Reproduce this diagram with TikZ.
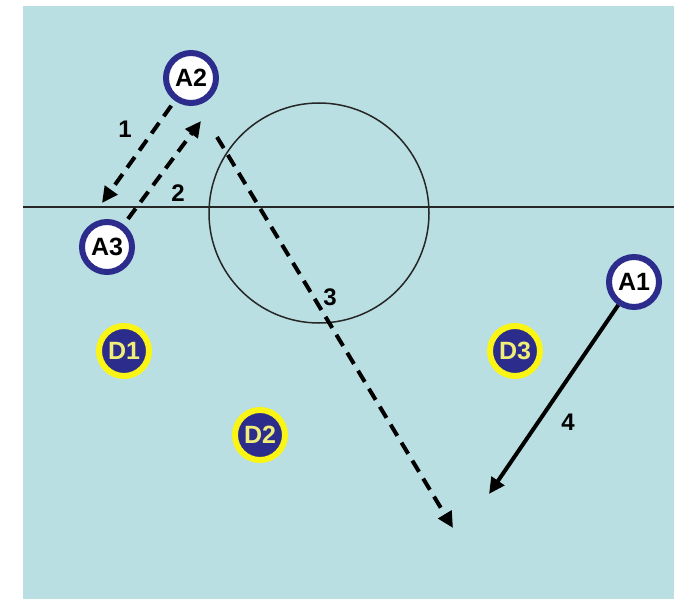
\documentclass[tikz,border=0pt]{standalone}
\usepackage{fontspec}
\setmainfont{Liberation Sans}
\usetikzlibrary{arrows.meta}
\definecolor{bgc}{RGB}{186,223,226}
\definecolor{navy}{RGB}{44,44,140}
\definecolor{yring}{RGB}{250,245,20}
\definecolor{ytext}{RGB}{240,238,120}
\tikzset{
  anode/.style={circle, draw=navy, line width=6pt, fill=white, minimum size=50pt, inner sep=0pt, font=\fontsize{25}{25}\selectfont\bfseries, text=black},
  dnode/.style={circle, draw=yring, line width=6pt, fill=navy, minimum size=50pt, inner sep=0pt, font=\fontsize{25}{25}\selectfont\bfseries, text=ytext},
  move/.style={line width=4pt, -{Triangle[length=16pt,width=15pt]}},
  dashmove/.style={move, dash pattern=on 13pt off 8pt},
  lbl/.style={font=\fontsize{24}{24}\selectfont\bfseries, text=black, inner sep=0pt},
  thin line/.style={line width=1.5pt, draw=black!85}
}
\begin{document}
\begin{tikzpicture}[x=1pt,y=-1pt]
\useasboundingbox (0,0) rectangle (674,599);
\fill[white] (0,0) rectangle (674,599);
\fill[bgc] (23,6) rectangle (674,599);
% field lines
\coordinate (hl) at (23,207);
\coordinate (hr) at (674,207);
\draw[thin line] (hl) -- (hr);
\coordinate (cc) at (319,213);
\draw[thin line] (cc) circle[radius=110];
% players
\node[anode] (A2) at (191,78) {A2};
\node[anode] (A3) at (107,247) {A3};
\node[anode] (A1) at (634,282) {A1};
\node[dnode] (D1) at (124,351) {D1};
\node[dnode] (D2) at (260,435) {D2};
\node[dnode] (D3) at (515,351) {D3};
% free ends
\coordinate (t1) at (102,203);
\coordinate (t2) at (201,121);
\coordinate (s3) at (217,137);
\coordinate (t3) at (453,528);
\coordinate (t4) at (489,494);
% moves
\draw[dashmove, shorten <=6pt] (A2) -- (t1);
\draw[dashmove, shorten <=7pt] (A3) -- (t2);
\draw[dashmove] (s3) -- (t3);
\draw[move] (A1) -- (t4);
% labels
\node[lbl] (l1) at (125,129) {1};
\node[lbl] (l2) at (178,193) {2};
\node[lbl] (l3) at (330,297) {3};
\node[lbl] (l4) at (568,422) {4};
\end{tikzpicture}
\end{document}
